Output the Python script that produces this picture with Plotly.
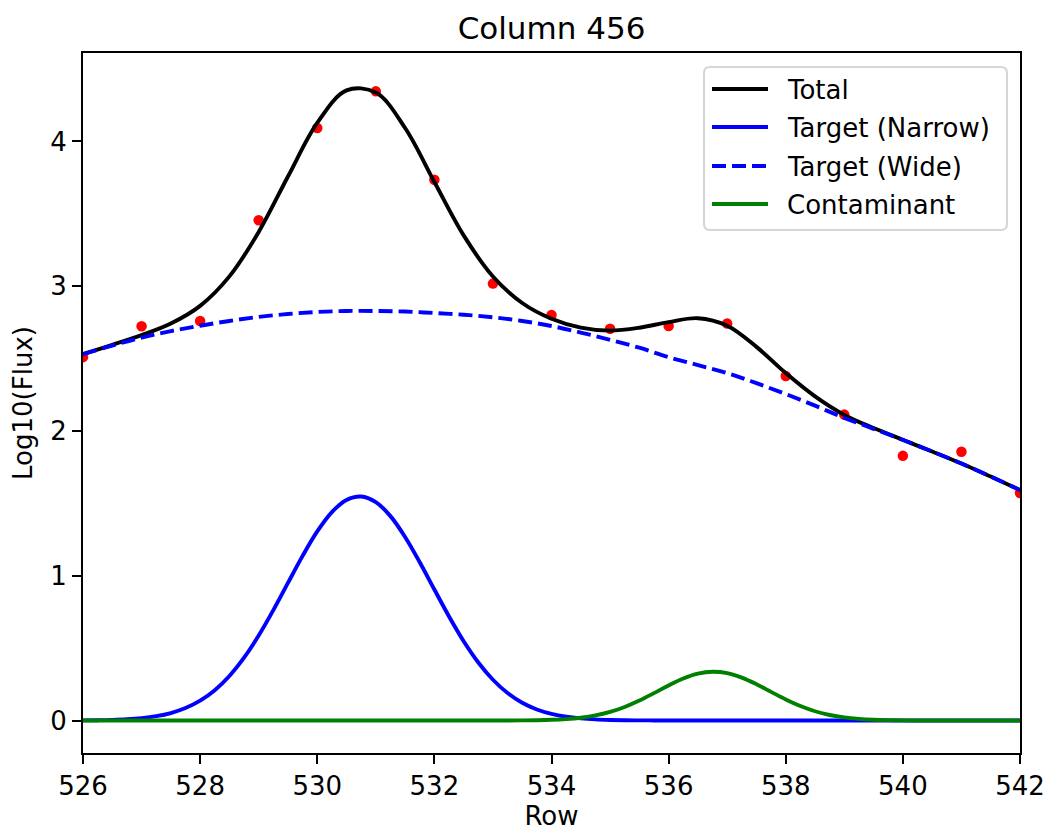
import plotly.graph_objects as go

# Measured rows and their log10 flux
rows = list(range(526, 543))
log_flux = [2.51, 2.724, 2.760, 3.456, 4.093, 4.346, 3.735, 3.018, 2.801, 2.706,
            2.725, 2.743, 2.380, 2.113, 1.828, 1.856, 1.572]

# Broad model curves, sampled every half row
half_rows = [526 + 0.5 * i for i in range(33)]
total = [2.531, 2.595, 2.662, 2.742, 2.864, 3.068, 3.375, 3.758, 4.128, 4.353,
         4.338, 4.093, 3.720, 3.351, 3.067, 2.884, 2.775, 2.714, 2.693, 2.713,
         2.752, 2.779, 2.727, 2.581, 2.400, 2.239, 2.111, 2.020, 1.939, 1.858,
         1.775, 1.685, 1.592]
wide = [2.530, 2.590, 2.645, 2.690, 2.727, 2.760, 2.788, 2.808, 2.822, 2.829,
        2.829, 2.825, 2.815, 2.803, 2.785, 2.760, 2.725, 2.680, 2.630, 2.575,
        2.510, 2.455, 2.400, 2.330, 2.255, 2.175, 2.090, 2.015, 1.938, 1.858,
        1.775, 1.685, 1.592]

# Peaked components, sampled every quarter row
quarter_rows = [526 + 0.25 * i for i in range(65)]
narrow = [0.0010, 0.0022, 0.0045, 0.0088, 0.0166, 0.0299, 0.0517, 0.0859,
          0.1369, 0.2095, 0.3076, 0.4338, 0.5869, 0.7622, 0.9503, 1.1372,
          1.3060, 1.4398, 1.5237, 1.5475, 1.5087, 1.4118, 1.2680, 1.0932,
          0.9047, 0.7186, 0.5478, 0.4009, 0.2816, 0.1898, 0.1228, 0.0763,
          0.0455, 0.0260, 0.0143, 0.0075, 0.0038, 0.0019, 0.0009, 0.0004,
          0.0002, 0.0001, 0.0, 0.0, 0.0, 0.0, 0.0, 0.0,
          0.0, 0.0, 0.0, 0.0, 0.0, 0.0, 0.0, 0.0,
          0.0, 0.0, 0.0, 0.0, 0.0, 0.0, 0.0, 0.0, 0.0]
contaminant = [0.0, 0.0, 0.0, 0.0, 0.0, 0.0, 0.0, 0.0,
               0.0, 0.0, 0.0, 0.0, 0.0, 0.0, 0.0, 0.0,
               0.0, 0.0, 0.0, 0.0, 0.0, 0.0, 0.0, 0.0,
               0.0, 0.0, 0.0, 0.0, 0.0001, 0.0003, 0.0009, 0.0021,
               0.0047, 0.0099, 0.0192, 0.0349, 0.0591, 0.0934, 0.1376, 0.1891,
               0.2424, 0.2900, 0.3236, 0.3369, 0.3272, 0.2965, 0.2506, 0.1977,
               0.1454, 0.0998, 0.0639, 0.0382, 0.0213, 0.0111, 0.0054, 0.0024,
               0.0010, 0.0004, 0.0002, 0.0001, 0.0, 0.0, 0.0, 0.0, 0.0]

x_ticks = list(range(526, 543, 2))
y_ticks = [0, 1, 2, 3, 4]

series_names = ["Total", "Target (Narrow)", "Target (Wide)", "Contaminant"]
series_colors = ["black", "#0000ff", "#0000ff", "#008000"]
series_dash = ["solid", "solid", "14px,6px", "solid"]
series_x = [half_rows, quarter_rows, half_rows, quarter_rows]
series_y = [total, narrow, wide, contaminant]

FONT = "DejaVu Sans"
LW = 3.9

W, H = 1049, 831
M_L, M_R, M_T, M_B = 83, 29, 53, 78
PW, PH = W - M_L - M_R, H - M_T - M_B


def px_x(px):
    return (px - M_L) / PW


def px_y(py):
    return (H - M_B - py) / PH


fig = go.Figure()

fig.add_trace(go.Scatter(
    x=rows, y=log_flux, mode="markers", showlegend=False,
    marker=dict(color="#ff0000", size=10.5, line=dict(width=0)),
))
for name, color, dash, xs, ys in zip(series_names, series_colors, series_dash,
                                      series_x, series_y):
    fig.add_trace(go.Scatter(
        x=xs, y=ys, mode="lines", name=name, showlegend=False,
        line=dict(color=color, width=LW, shape="spline", dash=dash),
    ))

axis_common = dict(
    showgrid=False, zeroline=False, showline=True, mirror=True, automargin=False,
    linecolor="black", linewidth=2, ticks="outside", ticklen=9, tickwidth=2,
    tickcolor="black", tickfont=dict(family=FONT, size=26, color="black"),
)

fig.update_xaxes(
    range=[526, 542], tickvals=x_ticks, ticktext=[str(v) for v in x_ticks],
    title=dict(text="Row", font=dict(family=FONT, size=26, color="black"), standoff=18),
    **axis_common,
)
fig.update_yaxes(
    range=[-0.2245, 4.611], tickvals=y_ticks, ticktext=[str(v) for v in y_ticks],
    title=dict(text="Log10(Flux)", font=dict(family=FONT, size=26, color="black"), standoff=10),
    **axis_common,
)

# Legend box with rounded corners, sample lines and labels
box_l, box_r, box_t, box_b, rad = 704, 1007, 67, 230, 6
x0, x1, y0, y1 = px_x(box_l), px_x(box_r), px_y(box_b), px_y(box_t)
rx, ry = rad / PW, rad / PH
legend_path = (
    f"M {x0 + rx},{y0} L {x1 - rx},{y0} Q {x1},{y0} {x1},{y0 + ry} "
    f"L {x1},{y1 - ry} Q {x1},{y1} {x1 - rx},{y1} L {x0 + rx},{y1} "
    f"Q {x0},{y1} {x0},{y1 - ry} L {x0},{y0 + ry} Q {x0},{y0} {x0 + rx},{y0} Z"
)
shapes = [dict(type="path", xref="paper", yref="paper", path=legend_path,
               fillcolor="rgba(255,255,255,0.8)", line=dict(color="#d5d5d5", width=2),
               layer="above")]
annotations = []
entry_y = [89, 127, 166, 204]
for name, color, dash, ey in zip(series_names, series_colors, series_dash, entry_y):
    shapes.append(dict(type="line", xref="paper", yref="paper",
                       x0=px_x(712), x1=px_x(768), y0=px_y(ey), y1=px_y(ey),
                       line=dict(color=color, width=LW, dash=dash), layer="above"))
    annotations.append(dict(text=name, xref="paper", yref="paper",
                            x=px_x(785), y=px_y(ey + 0.5), xanchor="left", yanchor="middle",
                            showarrow=False,
                            font=dict(family=FONT, size=26, color="black")))

fig.update_layout(
    width=W, height=H,
    margin=dict(l=M_L, r=M_R, t=M_T, b=M_B),
    paper_bgcolor="white", plot_bgcolor="white",
    showlegend=False,
    title=dict(text="Column 456", x=0.5, xref="paper", xanchor="center",
               y=1 - 28 / H, yref="container", yanchor="middle",
               font=dict(family=FONT, size=31, color="black")),
    shapes=shapes,
    annotations=annotations,
)

fig.write_html("out.html")
